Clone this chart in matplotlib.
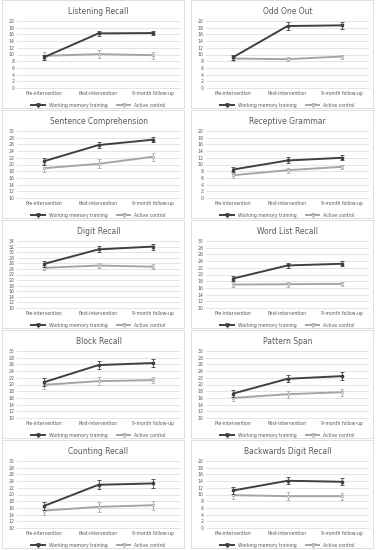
import matplotlib
matplotlib.use("Agg")
import matplotlib.pyplot as plt
from matplotlib.patches import Rectangle

phases = ['Pre-intervention', 'Post-intervention', '9-month follow-up']
titles = ['Listening Recall', 'Odd One Out', 'Sentence Comprehension', 'Receptive Grammar',
          'Digit Recall', 'Word List Recall', 'Block Recall', 'Pattern Span',
          'Counting Recall', 'Backwards Digit Recall']

# working memory training group
wm_listening = [9.2, 16.3, 16.4]
wm_oddone = [9.2, 18.5, 18.7]
wm_sentence = [21.0, 25.8, 27.4]
wm_grammar = [8.5, 11.2, 12.0]
wm_digit = [25.8, 31.0, 32.0]
wm_wordlist = [18.8, 22.7, 23.2]
wm_block = [20.7, 25.8, 26.4]
wm_pattern = [17.3, 21.7, 22.5]
wm_counting = [16.6, 22.9, 23.3]
wm_backwards = [11.2, 14.1, 13.8]

# active control group
ac_listening = [9.6, 10.1, 9.8]
ac_oddone = [8.8, 8.6, 9.4]
ac_sentence = [18.9, 20.2, 22.3]
ac_grammar = [6.8, 8.3, 9.3]
ac_digit = [24.4, 25.2, 24.8]
ac_wordlist = [17.0, 17.1, 17.2]
ac_block = [19.9, 21.0, 21.3]
ac_pattern = [16.0, 17.1, 17.7]
ac_counting = [15.2, 16.3, 16.8]
ac_backwards = [9.8, 9.5, 9.5]

# error bars
wm_err = [[0.7, 0.7, 0.7], [0.7, 1.2, 1.1], [1.0, 0.9, 0.8], [0.8, 0.9, 0.7], [1.1, 1.1, 1.1],
          [0.7, 0.8, 0.8], [1.1, 1.3, 1.1], [1.1, 1.0, 1.1], [1.1, 1.4, 1.3], [1.0, 1.1, 1.1]]
ac_err = [[1.0, 1.2, 1.0], [0.6, 0.6, 0.6], [1.2, 1.3, 1.2], [0.8, 0.7, 0.7], [0.9, 0.9, 0.9],
          [0.7, 0.7, 0.5], [1.1, 1.2, 1.0], [1.0, 1.0, 1.0], [1.2, 1.4, 1.3], [1.2, 1.2, 1.0]]

wm_all = [wm_listening, wm_oddone, wm_sentence, wm_grammar, wm_digit,
          wm_wordlist, wm_block, wm_pattern, wm_counting, wm_backwards]
ac_all = [ac_listening, ac_oddone, ac_sentence, ac_grammar, ac_digit,
          ac_wordlist, ac_block, ac_pattern, ac_counting, ac_backwards]
ylims = [(0, 20), (0, 20), (10, 30), (0, 20), (10, 34), (10, 30), (10, 30), (10, 30), (10, 30), (0, 20)]

W, H = 378, 550
fig = plt.figure(figsize=(W / 100, H / 100), dpi=100)

dark = '#404040'
light = '#a5a5a5'

for i in range(10):
    col = i % 2
    row = i // 2
    px = 2 if col == 0 else 191
    py = row * 110
    pw, ph = 182, 108
    # panel border
    fig.patches.append(Rectangle((px / W, 1 - (py + ph) / H), pw / W, ph / H,
                                 transform=fig.transFigure, fill=False,
                                 edgecolor='#d9d9d9', linewidth=0.6))
    ax = fig.add_axes([(px + 15) / W, 1 - (py + 88) / H, 163 / W, 67 / H])
    x = range(3)
    ax.errorbar(x, wm_all[i], yerr=wm_err[i], color=dark, lw=1.4, marker='s', ms=2,
                capsize=1.5, elinewidth=0.6, capthick=0.6, label='Working memory training', zorder=3)
    ax.errorbar(x, ac_all[i], yerr=ac_err[i], color=light, lw=1.4, marker='s', ms=2,
                mfc='white', mew=0.5, capsize=1.5, elinewidth=0.6, capthick=0.6,
                label='Active control', zorder=2)
    lo, hi = ylims[i]
    ax.set_ylim(lo, hi)
    ax.set_yticks(range(lo, hi + 1, 2))
    ax.set_xlim(-0.5, 2.5)
    ax.set_xticks(list(x))
    ax.set_xticklabels(phases)
    ax.tick_params(labelsize=3.3, colors='#595959', length=0, pad=2)
    ax.grid(axis='y', color='#d9d9d9', lw=0.5)
    ax.set_axisbelow(True)
    for s in ['top', 'right', 'left']:
        ax.spines[s].set_visible(False)
    ax.spines['bottom'].set_color('#d9d9d9')
    ax.spines['bottom'].set_linewidth(0.5)
    ax.set_title(titles[i], fontsize=5.5, color='#595959', pad=5)
    ax.legend(loc='upper center', bbox_to_anchor=(0.5, -0.16), ncol=2, frameon=False,
              fontsize=3.3, handlelength=3, columnspacing=2, labelcolor='#595959')

fig.savefig('out.png', dpi=100)
